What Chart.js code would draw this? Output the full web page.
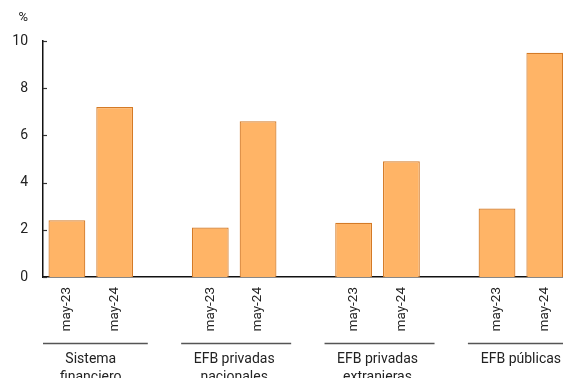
<!DOCTYPE html>
<html>
<head>
<meta charset="utf-8">
<script src="https://cdn.jsdelivr.net/npm/chart.js@4/dist/chart.umd.min.js"></script>
<style>
  html, body { margin: 0; padding: 0; background: #fff; overflow: hidden; }
  #wrap { position: relative; width: 571px; height: 378px; }
</style>
</head>
<body>
<div id="wrap"><canvas id="c"></canvas></div>
<script>
// Periods shown inside each group; empty slots separate the groups
const periods = ['may-23', 'may-24'];
const groups = [['Sistema', 'financiero'], ['EFB privadas', 'nacionales'], ['EFB privadas', 'extranjeras'], ['EFB públicas']];
// Values in %, one pair per group (may-23, may-24)
const sistemaFinanciero = [2.4, 7.2];
const efbPrivadasNacionales = [2.1, 6.6];
const efbPrivadasExtranjeras = [2.3, 4.9];
const efbPublicas = [2.9, 9.5];
const yTicks = [0, 2, 4, 6, 8, 10];

const seriesByGroup = [sistemaFinanciero, efbPrivadasNacionales, efbPrivadasExtranjeras, efbPublicas];
const labels = [];
const values = [];
seriesByGroup.forEach((vals, gi) => {
  if (gi > 0) { labels.push(''); values.push(null); }
  periods.forEach((p, i) => { labels.push(p); values.push(vals[i]); });
});

const FONT = 'Roboto, "Liberation Sans", sans-serif';

const decor = {
  id: 'decor',
  afterDraw(chart) {
    const { ctx, chartArea, scales } = chart;
    const x = scales.x, y = scales.y;
    ctx.save();
    // unit label
    ctx.fillStyle = '#222';
    ctx.font = '13px ' + FONT;
    ctx.textAlign = 'right';
    ctx.textBaseline = 'middle';
    ctx.fillText('%', 28, 18);
    // inner tick marks on the value axis
    ctx.strokeStyle = '#333';
    ctx.lineWidth = 1.2;
    yTicks.forEach(t => {
      const py = Math.round(y.getPixelForValue(t)) + 0.5;
      ctx.beginPath();
      ctx.moveTo(chartArea.left, py);
      ctx.lineTo(chartArea.left + 4, py);
      ctx.stroke();
    });
    // group brackets and names under the period labels
    groups.forEach((name, gi) => {
      const i0 = gi * 3, i1 = gi * 3 + 1;
      const cx = (x.getPixelForValue(i0) + x.getPixelForValue(i1)) / 2;
      const x0 = Math.max(chartArea.left, cx - 53);
      const x1 = cx + 57;
      ctx.strokeStyle = '#555';
      ctx.lineWidth = 1.3;
      ctx.beginPath();
      ctx.moveTo(x0, 343.5);
      ctx.lineTo(x1, 343.5);
      ctx.stroke();
      ctx.fillStyle = '#222';
      ctx.font = '14px ' + FONT;
      ctx.textAlign = 'center';
      ctx.textBaseline = 'middle';
      name.forEach((ln, k) => ctx.fillText(ln, cx, 359 + k * 18));
    });
    ctx.restore();
  }
};

new Chart(document.getElementById('c'), {
  type: 'bar',
  data: {
    labels,
    datasets: [{
      data: values,
      backgroundColor: 'rgb(255,180,102)',
      borderColor: 'rgb(212,122,38)',
      borderWidth: 1.2,
      borderSkipped: 'start',
      categoryPercentage: 1,
      barPercentage: 0.77
    }]
  },
  options: {
    responsive: true,
    maintainAspectRatio: false,
    animation: false,
    layout: { padding: { top: 41, right: 0, bottom: 0, left: 0 } },
    plugins: { legend: { display: false }, tooltip: { enabled: false } },
    scales: {
      x: {
        grid: { display: false, drawTicks: false },
        border: { display: true, color: '#111', width: 1.5 },
        ticks: {
          minRotation: 90, maxRotation: 90, autoSkip: false, padding: 10,
          color: '#222', font: { family: FONT, size: 13.5 }
        },
        afterFit(s) { s.height = 101; }
      },
      y: {
        min: 0, max: 10,
        grid: { display: false, drawTicks: false },
        border: { display: true, color: '#111', width: 1.5 },
        afterBuildTicks(s) { s.ticks = yTicks.map(v => ({ value: v })); },
        ticks: { padding: 15, color: '#222', font: { family: FONT, size: 14 } },
        afterFit(s) { s.width = 43; }
      }
    }
  },
  plugins: [decor]
});
</script>
</body>
</html>
